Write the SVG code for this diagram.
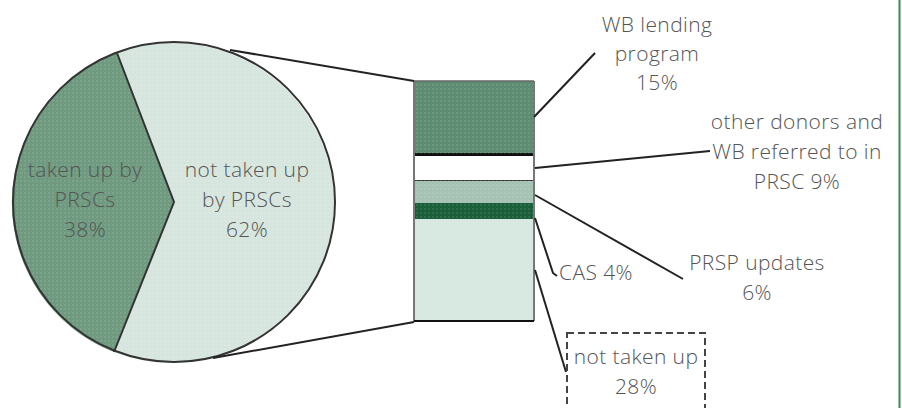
<svg xmlns="http://www.w3.org/2000/svg" width="902" height="408" viewBox="0 0 902 408">
<style>
  text { font-family: "Open Sans", "Liberation Sans", sans-serif; font-size: 21px; font-weight: 300; fill: #555; letter-spacing: 0.4px; }
  .c { text-anchor: middle; }
  .ln { stroke: #222; stroke-width: 2; fill: none; }
  .edge { stroke: #333; stroke-width: 2; }
</style>
<defs>
  <pattern id="dots" width="4" height="4" patternUnits="userSpaceOnUse">
    <rect width="4" height="4" fill="none"/>
    <circle cx="1" cy="1" r="0.7" fill="#ffffff" fill-opacity="0.25"/>
  </pattern>
</defs>
<rect width="902" height="408" fill="#ffffff"/>
<line x1="899.5" y1="0" x2="899.5" y2="408" stroke="#3a8a55" stroke-width="2"/>

<g id="pie">
  <path id="slice-taken" d="M117,53 L174,202 L114,352 A161,160 0 0 1 117,53 Z" fill="#6f9a80"/>
  <path id="slice-not" d="M117,53 A161,160 0 1 1 114,352 L174,202 Z" fill="#d6e6de"/>
  <path d="M117,53 L174,202 L114,352 A161,160 0 0 1 117,53 Z" fill="url(#dots)"/>
  <path d="M117,53 A161,160 0 1 1 114,352 L174,202 Z" fill="url(#dots)"/>
  <ellipse cx="174" cy="202" rx="161" ry="160" class="edge" fill="none"/>
  <polyline points="117,53 174,202 114,352" class="edge" fill="none"/>
  <text class="c" x="85" y="177">taken up by</text>
  <text class="c" x="85" y="207">PRSCs</text>
  <text class="c" x="85" y="237">38%</text>
  <text class="c" x="247" y="177">not taken up</text>
  <text class="c" x="247" y="207">by PRSCs</text>
  <text class="c" x="247" y="237">62%</text>
</g>

<g id="bar">
  <rect x="414" y="81" width="120" height="72" fill="#5e8c72"/>
  <rect x="414" y="153" width="120" height="3" fill="#111"/>
  <rect x="414" y="156" width="120" height="25" fill="#ffffff"/>
  <rect x="414" y="180" width="120" height="1.5" fill="#333"/>
  <rect x="414" y="181" width="120" height="22" fill="#a5c2b4"/>
  <rect x="414" y="203" width="120" height="16" fill="#1b5e3a"/>
  <rect x="414" y="219" width="120" height="102" fill="#d6e8df"/>
  <rect x="414" y="81" width="120" height="240" fill="url(#dots)"/>
  <line x1="414" y1="81" x2="414" y2="321" stroke="#777" stroke-width="2"/>
  <line x1="534" y1="81" x2="534" y2="321" stroke="#777" stroke-width="2"/>
  <line x1="414" y1="81" x2="534" y2="81" stroke="#666" stroke-width="1.5"/>
  <line x1="414" y1="321" x2="534" y2="321" stroke="#111" stroke-width="2"/>
</g>

<g id="connectors">
  <line x1="230" y1="50" x2="414" y2="81" class="ln"/>
  <line x1="213" y1="358" x2="414" y2="322" class="ln"/>
  <line x1="534" y1="117" x2="595" y2="53" class="ln"/>
  <line x1="535" y1="168" x2="710" y2="151" class="ln"/>
  <line x1="535" y1="195" x2="683" y2="279" class="ln"/>
  <polyline points="535,218 553,273 557,276" class="ln"/>
  <line x1="535" y1="270" x2="566" y2="372" class="ln"/>
</g>

<g id="label-wb">
  <text class="c" x="657" y="32">WB lending</text>
  <text class="c" x="657" y="61">program</text>
  <text class="c" x="657" y="90">15%</text>
</g>
<g id="label-donors">
  <text class="c" x="797" y="129">other donors and</text>
  <text class="c" x="797" y="159">WB referred to in</text>
  <text class="c" x="797" y="189">PRSC 9%</text>
</g>
<g id="label-prsp">
  <text class="c" x="757" y="270">PRSP updates</text>
  <text class="c" x="757" y="300">6%</text>
</g>
<g id="label-cas">
  <text x="559" y="280">CAS 4%</text>
</g>
<g id="label-not">
  <rect x="567" y="333" width="138" height="90" fill="none" stroke="#444" stroke-width="2" stroke-dasharray="7,4"/>
  <text class="c" x="636" y="364">not taken up</text>
  <text class="c" x="636" y="394">28%</text>
</g>
</svg>
